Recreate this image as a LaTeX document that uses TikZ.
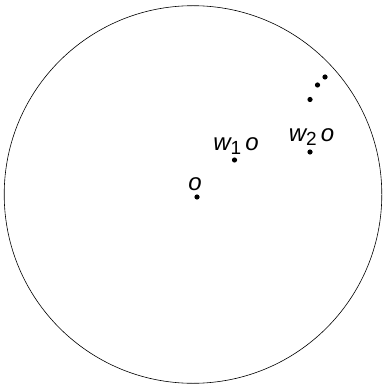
\documentclass[tikz,border=0pt]{standalone}
\usepackage{fontspec}
\setmainfont{Liberation Sans}
\begin{document}
\begin{tikzpicture}[x=1pt, y=-1pt,
    pt/.style={circle, fill=black, inner sep=0pt, minimum size=5.2pt},
    lbl/.style={font=\fontsize{24}{26}\selectfont\itshape, inner sep=0pt}
]
\useasboundingbox (0,0) rectangle (385,387);

% Ball
\draw[line width=0.6pt] (193,194.5) circle (188.8);

% Points
\node[pt] (o) at (197,197) {};
\node[pt] (w1) at (234.5,160) {};
\node[pt] (w2) at (310,152) {};
\node[pt] (d1) at (310,99.5) {};
\node[pt] (d2) at (317.5,85) {};
\node[pt] (d3) at (325,77) {};

% Labels
\node[lbl, anchor=base] (lo) at ([yshift=4pt,xshift=-2pt]o.north) {o};
\node[lbl, anchor=base] (lw1) at ([yshift=7pt,xshift=1.5pt]w1.north) {w\raisebox{-0.35ex}{\upshape\fontsize{19}{21}\selectfont 1}\,o};
\node[lbl, anchor=base] (lw2) at ([yshift=8pt,xshift=1.5pt]w2.north) {w\raisebox{-0.35ex}{\upshape\fontsize{19}{21}\selectfont 2}\,o};

\end{tikzpicture}
\end{document}
